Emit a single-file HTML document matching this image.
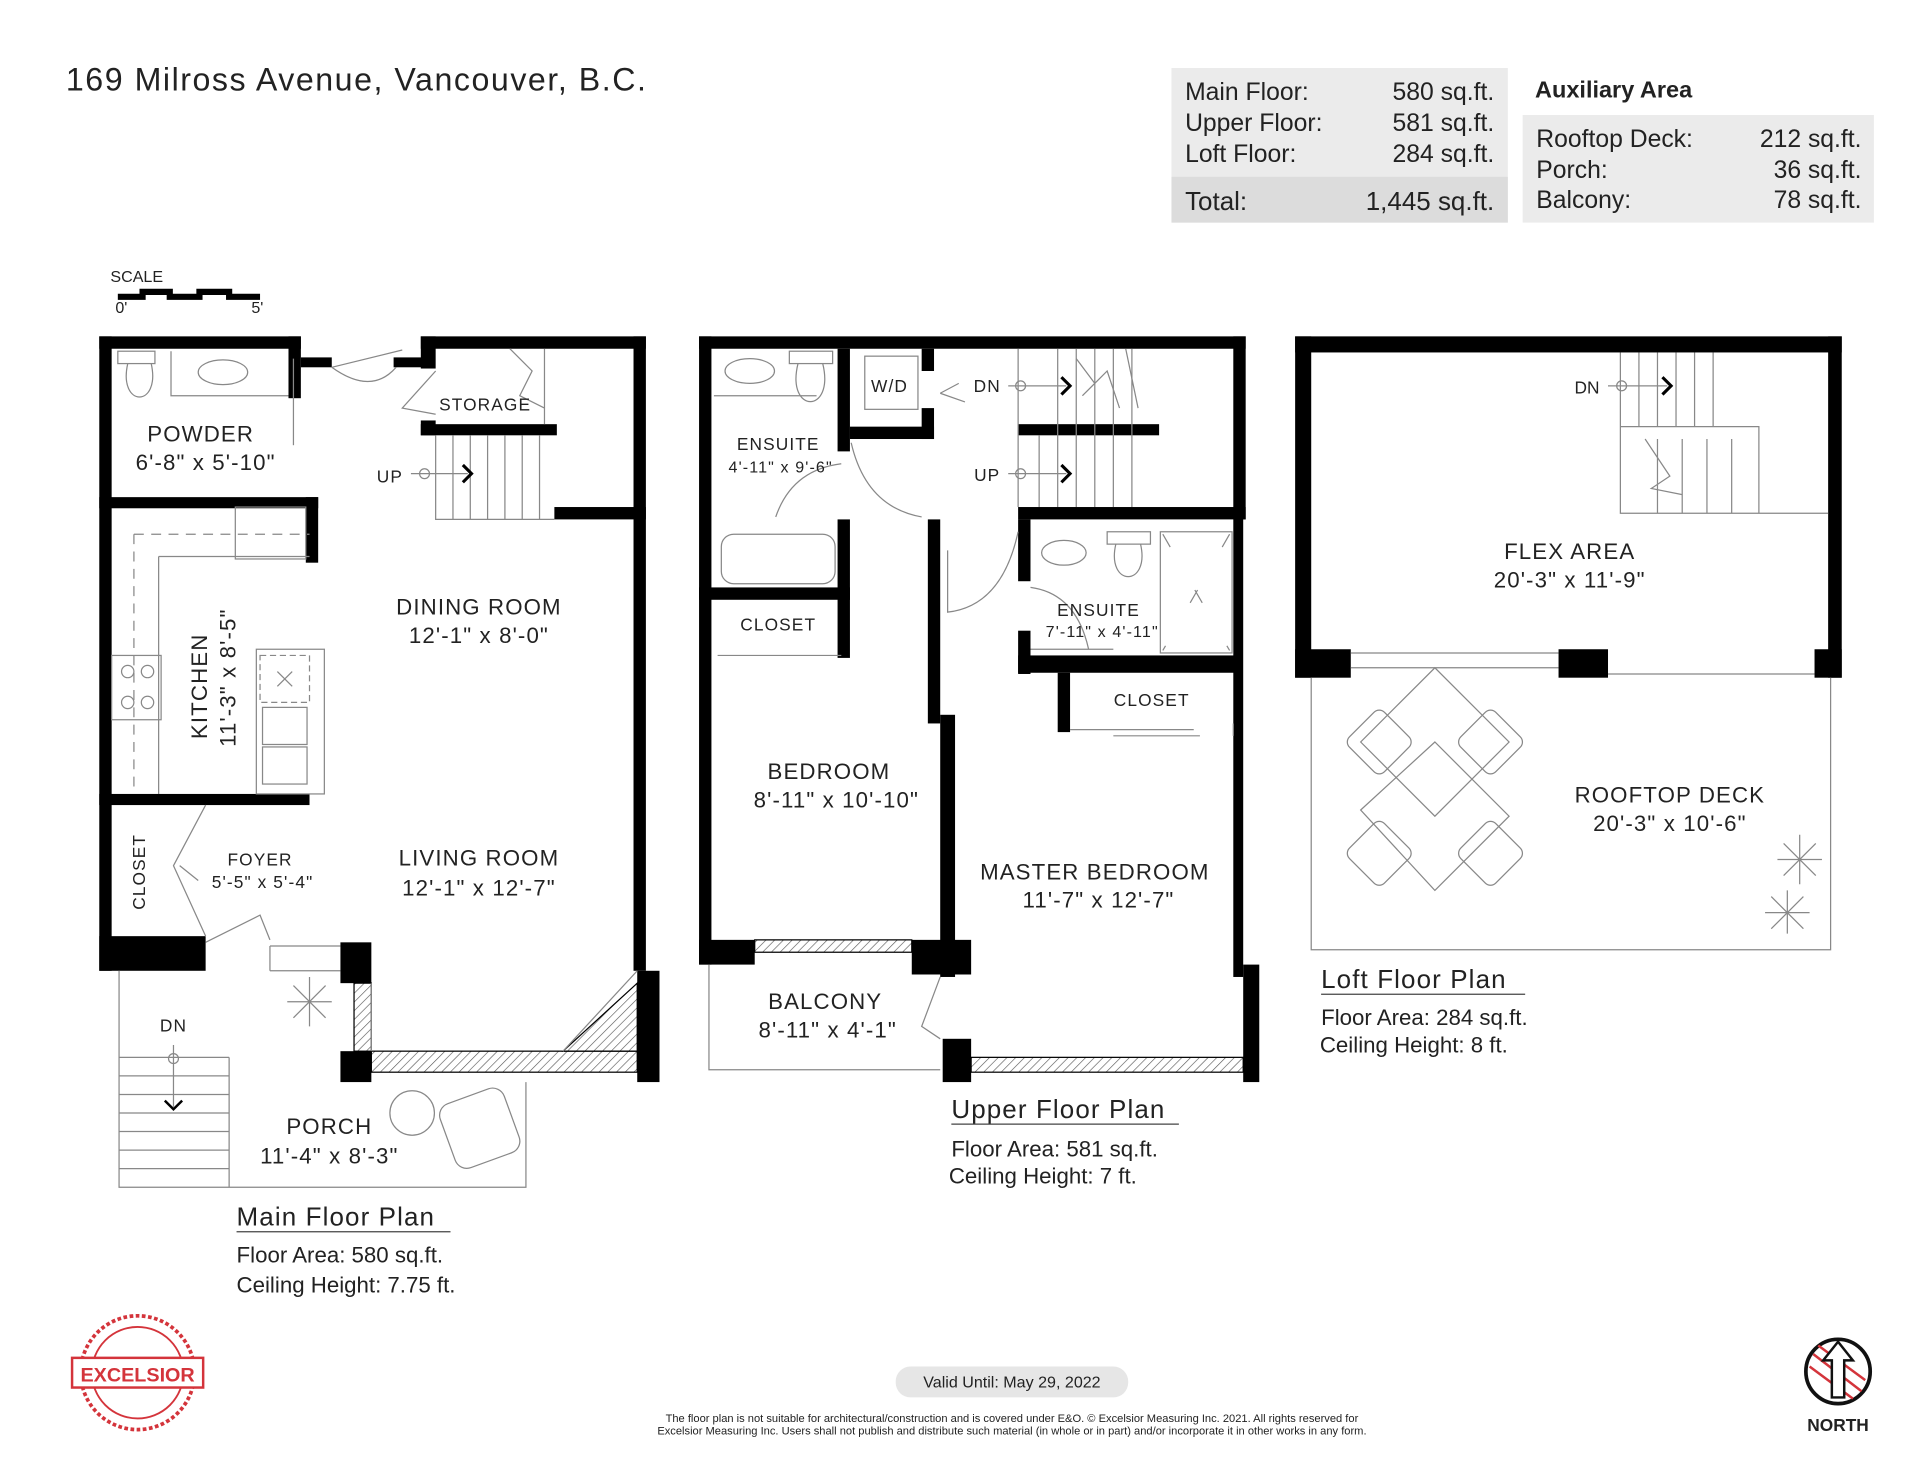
<!DOCTYPE html>
<html><head><meta charset="utf-8"><style>
html,body{margin:0;padding:0;background:#fff;}
svg{display:block}
text{font-family:"Liberation Sans",sans-serif;fill:#222}
.r{letter-spacing:0.9px}
</style></head><body>
<svg width="1920" height="1484" viewBox="0 0 1552 1200" xmlns="http://www.w3.org/2000/svg">
<defs>
<pattern id="h" width="5" height="5" patternUnits="userSpaceOnUse" patternTransform="rotate(45)">
<rect width="5" height="5" fill="#fff"/><line x1="0" y1="0" x2="0" y2="5" stroke="#555" stroke-width="1"/></pattern>
</defs>
<text x="53" y="73" font-size="26" textLength="469" lengthAdjust="spacing">169 Milross Avenue, Vancouver, B.C.</text>
<!-- tables -->
<rect x="947" y="55" width="272" height="125" fill="#ebebeb"/>
<rect x="947" y="143" width="272" height="37" fill="#dcdcdc"/>
<g font-size="20">
<text x="958" y="81">Main Floor:</text><text x="1208" y="81" text-anchor="end">580 sq.ft.</text>
<text x="958" y="106">Upper Floor:</text><text x="1208" y="106" text-anchor="end">581 sq.ft.</text>
<text x="958" y="131">Loft Floor:</text><text x="1208" y="131" text-anchor="end">284 sq.ft.</text>
<text x="958" y="170" font-size="21">Total:</text><text x="1208" y="170" text-anchor="end" font-size="21">1,445 sq.ft.</text>
<text x="1241" y="79" font-weight="bold" font-size="19">Auxiliary Area</text>
</g>
<rect x="1231" y="93" width="284" height="87" fill="#ebebeb"/>
<g font-size="20">
<text x="1242" y="119">Rooftop Deck:</text><text x="1505" y="119" text-anchor="end">212 sq.ft.</text>
<text x="1242" y="144">Porch:</text><text x="1505" y="144" text-anchor="end">36 sq.ft.</text>
<text x="1242" y="168">Balcony:</text><text x="1505" y="168" text-anchor="end">78 sq.ft.</text>
</g>
<!-- scale -->
<text x="89" y="228" font-size="13">SCALE</text>
<path d="M95 240 H115 V236 H137 V240 H161 V236 H185 V240 H210" stroke="#000" stroke-width="5" fill="none"/>
<text x="93" y="253" font-size="13">0'</text><text x="203" y="253" font-size="13">5'</text>

<!-- MAIN FLOOR -->
<g fill="#000">
<rect x="80" y="272" width="10" height="513"/>
<rect x="80" y="272" width="163" height="10"/>
<rect x="233" y="272" width="10" height="50"/>
<rect x="243" y="289" width="25" height="8"/>
<rect x="318" y="289" width="25" height="8"/>
<rect x="340" y="272" width="182" height="10"/>
<rect x="340" y="272" width="12" height="26"/>
<rect x="340" y="340" width="12" height="12"/>
<rect x="340" y="343" width="110" height="9"/>
<rect x="512" y="272" width="10" height="513"/>
<rect x="448" y="410" width="74" height="10"/>
<rect x="80" y="402" width="177" height="9"/>
<rect x="247" y="402" width="10" height="53"/>
<rect x="80" y="642" width="170" height="9"/>
<rect x="80" y="757" width="86" height="28"/>
<rect x="275" y="762" width="25" height="33"/>
<rect x="275" y="850" width="25" height="25"/>
<rect x="515" y="785" width="18" height="90"/>
</g>
<rect x="300" y="850" width="215" height="17" fill="url(#h)" stroke="#000"/>
<rect x="286" y="795" width="14" height="55" fill="url(#h)" stroke="#000"/>
<polygon points="455,850 515,795 515,850" fill="url(#h)" stroke="#000"/>
<g stroke="#888" fill="none" stroke-width="1">
<path d="M96 785 V960 H425 V875"/>
<path d="M96 855 H185 M96 870 H185 M96 885 H185 M96 900 H185 M96 915 H185 M96 930 H185 M96 945 H185 M185 855 V960"/>
<line x1="140" y1="845" x2="140" y2="895"/><circle cx="140" cy="856" r="4"/>
<path d="M352 352 V420 H448 M366 352 V420 M380 352 V420 M394 352 V420 M408 352 V420 M422 352 V420 M436 352 V420"/>
<path d="M412 282 L430 300 L420 320 L440 330 M440 282 V343"/>
<line x1="332" y1="383" x2="378" y2="383"/><circle cx="343" cy="383" r="4"/>
<rect x="95" y="284" width="30" height="10"/><path d="M103 294 C95 330 130 330 122 294"/>
<ellipse cx="180" cy="301" rx="20" ry="10"/><path d="M138 284 V320 H233"/>
<path d="M268 297 L325 283 M268 297 Q300 320 320 297"/>
<path d="M352 300 L325 330 L352 335"/>
<path d="M237 290 V360"/>
<path d="M108 432 H250" stroke-dasharray="8 6"/><path d="M108 432 V640" stroke-dasharray="8 6"/>
<path d="M128 450 H250 M128 450 V642"/><rect x="190" y="410" width="57" height="42"/>
<rect x="90" y="530" width="40" height="52"/>
<circle cx="103" cy="543" r="5"/><circle cx="119" cy="543" r="5"/><circle cx="103" cy="568" r="5"/><circle cx="119" cy="568" r="5"/>
<rect x="207" y="525" width="55" height="117"/><rect x="210" y="530" width="40" height="38" stroke-dasharray="5 3"/>
<path d="M224 543 L236 555 M236 543 L224 555"/>
<rect x="212" y="572" width="36" height="30"/><rect x="212" y="604" width="36" height="30"/>
<path d="M166 651 L140 700 L166 757 M145 700 L160 712"/>
<path d="M166 762 L210 740 L218 760 M218 765 H275 M218 785 H275 M218 765 V785"/>
<path d="M300 795 V850 M515 785 L455 850"/>
<circle cx="333" cy="900" r="18"/><rect x="360" y="885" width="55" height="55" rx="10" transform="rotate(-20 387 912)"/>
<path d="M250 790 L250 830 M232 810 L268 810 M237 797 L263 823 M263 797 L237 823"/>
</g>
<path d="M374 376 L381 383 L374 390" stroke="#000" stroke-width="2.5" fill="none"/>
<path d="M133 890 L140 897 L147 890" stroke="#000" stroke-width="2" fill="none"/>
<g font-size="18" text-anchor="middle" class="r">
<text x="162" y="357">POWDER</text><text x="166" y="380">6'-8"  x  5'-10"</text>
<text x="387" y="497">DINING ROOM</text><text x="387" y="520">12'-1"  x  8'-0"</text>
<text x="387" y="700">LIVING ROOM</text><text x="387" y="724">12'-1"  x  12'-7"</text>
<text x="266" y="917">PORCH</text><text x="266" y="941">11'-4"  x  8'-3"</text>
</g>
<g font-size="14" text-anchor="middle" class="r">
<text x="392" y="332">STORAGE</text><text x="315" y="390">UP</text>
<text x="210" y="700">FOYER</text><text x="212" y="718">5'-5"  x  5'-4"</text>
<text x="140" y="834">DN</text>
<text transform="translate(117,705) rotate(-90)" font-size="14">CLOSET</text>
<text transform="translate(167,555) rotate(-90)" font-size="18">KITCHEN</text>
<text transform="translate(190,548) rotate(-90)" font-size="18">11'-3"  x  8'-5"</text>
</g>
<text x="191" y="991" font-size="21" class="r">Main Floor Plan</text><line x1="191" y1="996" x2="364" y2="996" stroke="#444"/>
<text x="191" y="1021" font-size="18">Floor Area: 580 sq.ft.</text>
<text x="191" y="1045" font-size="18">Ceiling Height: 7.75 ft.</text>

<!-- UPPER FLOOR -->
<g fill="#000">
<rect x="565" y="272" width="10" height="508"/>
<rect x="565" y="272" width="442" height="10"/>
<rect x="997" y="272" width="10" height="148"/>
<rect x="823" y="410" width="184" height="10"/>
<rect x="997" y="410" width="8" height="380"/>
<rect x="1005" y="780" width="13" height="95"/>
<rect x="677" y="282" width="10" height="83"/>
<rect x="677" y="420" width="10" height="112"/>
<rect x="565" y="475" width="122" height="10"/>
<rect x="687" y="345" width="68" height="10"/>
<rect x="745" y="282" width="10" height="18"/><rect x="745" y="330" width="10" height="25"/>
<rect x="823" y="343" width="114" height="9"/>
<rect x="750" y="420" width="10" height="165"/>
<rect x="760" y="578" width="12" height="212"/>
<rect x="823" y="420" width="10" height="50"/>
<rect x="823" y="510" width="10" height="35"/>
<rect x="823" y="530" width="177" height="14"/>
<rect x="855" y="544" width="10" height="48"/>
<rect x="565" y="760" width="45" height="20"/>
<rect x="737" y="760" width="48" height="28"/>
<rect x="762" y="840" width="23" height="35"/>
</g>
<rect x="610" y="760" width="127" height="10" fill="url(#h)" stroke="#000"/>
<rect x="785" y="855" width="220" height="12" fill="url(#h)" stroke="#000"/>
<g stroke="#888" fill="none" stroke-width="1">
<path d="M573 780 V865 H760"/>
<rect x="583" y="432" width="92" height="40" rx="10"/>
<ellipse cx="606" cy="300" rx="20" ry="10"/><rect x="638" y="284" width="35" height="10"/><path d="M645 294 C635 335 675 335 665 294"/>
<path d="M577 320 H660"/>
<rect x="699" y="288" width="43" height="43"/>
<path d="M627 418 Q640 380 680 375 M688 358 Q700 410 745 418"/>
<path d="M580 530 H680 M610 530 H645"/>
<path d="M823 282 V410 M840 352 V410 M855 282 V410 M870 282 V410 M885 282 V410 M900 282 V410 M915 282 V410"/>
<path d="M870 290 L885 310 L875 320 L895 300 L905 330 M910 282 L920 330"/>
<line x1="815" y1="312" x2="862" y2="312"/><circle cx="825" cy="312" r="4"/>
<line x1="815" y1="383" x2="862" y2="383"/><circle cx="825" cy="383" r="4"/>
<path d="M760 318 L775 310 M760 318 L780 325"/>
<path d="M766 445 V495 Q810 490 823 430"/>
<ellipse cx="860" cy="447" rx="18" ry="10"/><rect x="895" y="430" width="35" height="10"/><path d="M902 440 C894 475 930 475 922 440"/>
<rect x="938" y="430" width="58" height="98"/><path d="M940 432 L994 526 M994 432 L940 526" stroke-dasharray="12 40"/>
<path d="M833 475 Q870 480 880 525 M833 525 H900"/>
<path d="M865 590 H965 M900 595 H970 M997 585 V595"/>
<path d="M760 790 L745 830 L760 840"/>
</g>
<path d="M858 305 L865 312 L858 319 M858 376 L865 383 L858 390" stroke="#000" stroke-width="2.5" fill="none"/>
<g font-size="18" text-anchor="middle" class="r">
<text x="670" y="630">BEDROOM</text><text x="676" y="653">8'-11"  x 10'-10"</text>
<text x="885" y="711">MASTER BEDROOM</text><text x="888" y="734">11'-7"  x  12'-7"</text>
<text x="667" y="816">BALCONY</text><text x="669" y="839">8'-11"  x   4'-1"</text>
</g>
<g font-size="14" text-anchor="middle" class="r">
<text x="629" y="364">ENSUITE</text><text x="631" y="382" font-size="13">4'-11" x  9'-6"</text>
<text x="629" y="510">CLOSET</text><text x="719" y="317">W/D</text>
<text x="798" y="317">DN</text><text x="798" y="389">UP</text>
<text x="888" y="498">ENSUITE</text><text x="891" y="515" font-size="13">7'-11" x  4'-11"</text>
<text x="931" y="571">CLOSET</text>
</g>
<text x="769" y="904" font-size="21" class="r">Upper Floor Plan</text><line x1="769" y1="909" x2="953" y2="909" stroke="#444"/>
<text x="769" y="935" font-size="18">Floor Area: 581 sq.ft.</text>
<text x="767" y="957" font-size="18">Ceiling Height: 7 ft.</text>

<!-- LOFT -->
<g fill="#000">
<rect x="1047" y="272" width="13" height="276"/>
<rect x="1047" y="272" width="442" height="13"/>
<rect x="1478" y="272" width="11" height="276"/>
<rect x="1047" y="525" width="45" height="23"/>
<rect x="1260" y="525" width="40" height="23"/>
<rect x="1467" y="525" width="22" height="23"/>
</g>
<g stroke="#888" fill="none" stroke-width="1">
<path d="M1092 528 H1260 M1092 540 H1260 M1300 545 H1467"/>
<path d="M1060 548 V768 H1480 V548"/>
<path d="M1310 285 V415 H1478 M1310 345 H1422 V415 M1325 285 V345 M1340 285 V345 M1355 285 V345 M1370 285 V345 M1385 285 V345 M1340 355 V415 M1360 355 V415 M1380 355 V415 M1400 355 V415"/>
<path d="M1330 355 L1350 385 L1335 395 L1360 400"/>
<line x1="1300" y1="312" x2="1348" y2="312"/><circle cx="1311" cy="312" r="4"/>
<path d="M1100 600 L1160 660 L1220 600 L1160 540 Z"/>
<path d="M1100 655 L1160 600 L1220 660 L1160 720 Z"/>
<rect x="1095" y="580" width="40" height="40" rx="6" transform="rotate(45 1115 600)"/>
<rect x="1185" y="580" width="40" height="40" rx="6" transform="rotate(45 1205 600)"/>
<rect x="1095" y="670" width="40" height="40" rx="6" transform="rotate(45 1115 690)"/>
<rect x="1185" y="670" width="40" height="40" rx="6" transform="rotate(45 1205 690)"/>
<path d="M1455 675 V715 M1437 695 H1473 M1442 682 L1468 708 M1468 682 L1442 708"/>
<path d="M1445 720 V755 M1427 738 H1463 M1432 725 L1458 751 M1458 725 L1432 751"/>
</g>
<path d="M1344 305 L1351 312 L1344 319" stroke="#000" stroke-width="2.5" fill="none"/>
<text x="1283" y="318" font-size="14" text-anchor="middle">DN</text>
<g font-size="18" text-anchor="middle" class="r">
<text x="1269" y="452">FLEX AREA</text><text x="1269" y="475">20'-3"  x   11'-9"</text>
<text x="1350" y="649">ROOFTOP DECK</text><text x="1350" y="672">20'-3"  x  10'-6"</text>
</g>
<text x="1068" y="799" font-size="21" class="r">Loft Floor Plan</text><line x1="1068" y1="804" x2="1233" y2="804" stroke="#444"/>
<text x="1068" y="829" font-size="18">Floor Area: 284 sq.ft.</text>
<text x="1067" y="851" font-size="18">Ceiling Height: 8 ft.</text>

<!-- footer -->
<rect x="724" y="1105" width="188" height="25" rx="12" fill="#e6e6e6"/>
<text x="818" y="1122" font-size="13" text-anchor="middle">Valid Until:   May 29, 2022</text>
<text x="818" y="1150" font-size="9" text-anchor="middle">The floor plan is not suitable for architectural/construction and is covered under E&amp;O. © Excelsior Measuring Inc. 2021. All rights reserved for</text>
<text x="818" y="1160" font-size="9" text-anchor="middle">Excelsior Measuring Inc. Users shall not publish and distribute such material (in whole or in part) and/or incorporate it in other works in any form.</text>
<g stroke="#d4343b" fill="none">
<circle cx="111" cy="1110" r="46" stroke-width="3" stroke-dasharray="3 2"/>
<circle cx="111" cy="1110" r="37" stroke-width="1.5"/>
</g>
<rect x="58" y="1098" width="106" height="24" fill="#fff" stroke="#d4343b" stroke-width="2"/>
<text x="111" y="1117" font-size="16" font-weight="bold" text-anchor="middle" style="fill:#d4343b">EXCELSIOR</text>
<circle cx="1486" cy="1109" r="26" fill="none" stroke="#111" stroke-width="3"/>
<path d="M1466 1095 L1505 1125 M1470 1088 L1508 1116 M1463 1105 L1498 1131" stroke="#d4343b" stroke-width="2"/>
<path d="M1486 1085 L1474 1100 L1481 1100 V1130 H1491 V1100 H1498 Z" fill="#fff" stroke="#111" stroke-width="2"/>
<text x="1486" y="1157" font-size="14" font-weight="bold" text-anchor="middle">NORTH</text>
</svg>
</body></html>
